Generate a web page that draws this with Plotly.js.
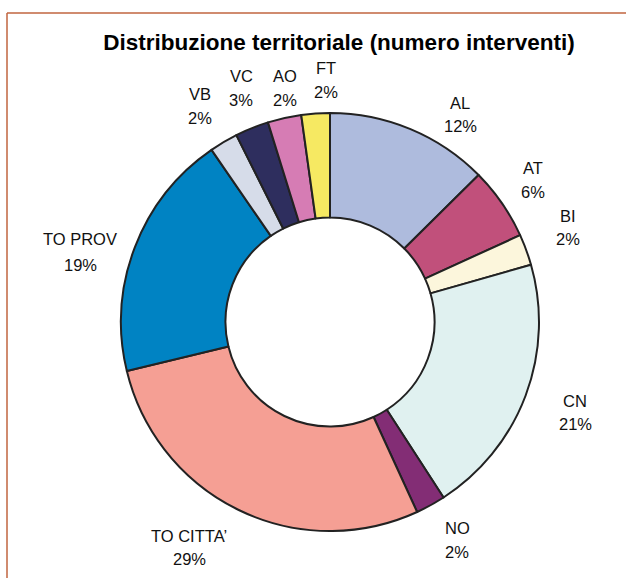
<!DOCTYPE html>
<html>
<head>
<meta charset="utf-8">
<script src="https://cdn.plot.ly/plotly-3.0.1.min.js"></script>
<style>html,body{margin:0;padding:0;background:#fff;}#chart{width:626px;height:578px;}</style>
</head>
<body>
<div id="chart"></div>
<script>
// Data
const categories = ["AL", "AT", "BI", "CN", "NO", "TO CITTA\u2019", "TO PROV", "VB", "VC", "AO", "FT"];
const shares = [12.6, 5.6, 2.4, 20.3, 2.3, 28.1, 19.2, 2.2, 2.6, 2.6, 2.2];
const percentLabels = ["12%", "6%", "2%", "21%", "2%", "29%", "19%", "2%", "3%", "2%", "2%"];

// Styles / layout
const colors = ["#aebbdd", "#c1507b", "#fcf6dc", "#e0f1f0", "#832d75", "#f59f94", "#0083c3", "#d6dce9", "#2e2e5e", "#d67cb4", "#f6e962"];
const W = 626, H = 578;
// label centre positions in pixels [x, yName, yPct]
const labelPos = [
  [460, 103, 126], [533, 168, 192], [568, 216, 239], [575, 401, 424],
  [457, 528, 552], [189, 536, 559], [80, 239, 265], [200, 94, 118],
  [241, 76, 100], [285, 76, 100], [326, 68, 92]
];

const annotations = [];
categories.forEach((c, i) => {
  const p = labelPos[i];
  const common = {xref: "paper", yref: "paper", xanchor: "center", yanchor: "middle", showarrow: false,
    font: {family: "Liberation Sans, Arial, sans-serif", size: 16.5, color: "#111"}};
  annotations.push(Object.assign({}, common, {x: p[0] / W, y: 1 - p[1] / H, text: c}));
  annotations.push(Object.assign({}, common, {x: p[0] / W, y: 1 - p[2] / H, text: percentLabels[i]}));
});

const cx = 330, cy = 322, r = 209;
const trace = {
  type: "pie",
  labels: categories,
  values: shares,
  sort: false,
  direction: "clockwise",
  rotation: 0,
  hole: 0.5,
  textinfo: "none",
  hoverinfo: "label+percent",
  marker: {colors: colors, line: {color: "#222222", width: 2}},
  domain: {x: [(cx - r) / W, (cx + r) / W], y: [1 - (cy + r) / H, 1 - (cy - r) / H]},
  showlegend: false
};

const frameColor = "#c0653f";
const layout = {
  width: W, height: H,
  margin: {l: 0, r: 0, t: 0, b: 0},
  paper_bgcolor: "#ffffff",
  title: {
    text: "<b>Distribuzione territoriale (numero interventi)</b>",
    font: {family: "Liberation Sans, Arial, sans-serif", size: 22.5, color: "#000"},
    x: 339 / W, xanchor: "center", xref: "paper",
    y: 1 - 42 / H, yanchor: "middle", yref: "container"
  },
  annotations: annotations,
  shapes: [
    {type: "line", xref: "paper", yref: "paper", x0: 7 / W, x1: 1, y0: 1 - 13 / H, y1: 1 - 13 / H, line: {color: frameColor, width: 1.5}},
    {type: "line", xref: "paper", yref: "paper", x0: 7 / W, x1: 7 / W, y0: 0, y1: 1 - 13 / H, line: {color: frameColor, width: 1.5}}
  ]
};

Plotly.newPlot("chart", [trace], layout, {displayModeBar: false, staticPlot: true});
</script>
</body>
</html>
